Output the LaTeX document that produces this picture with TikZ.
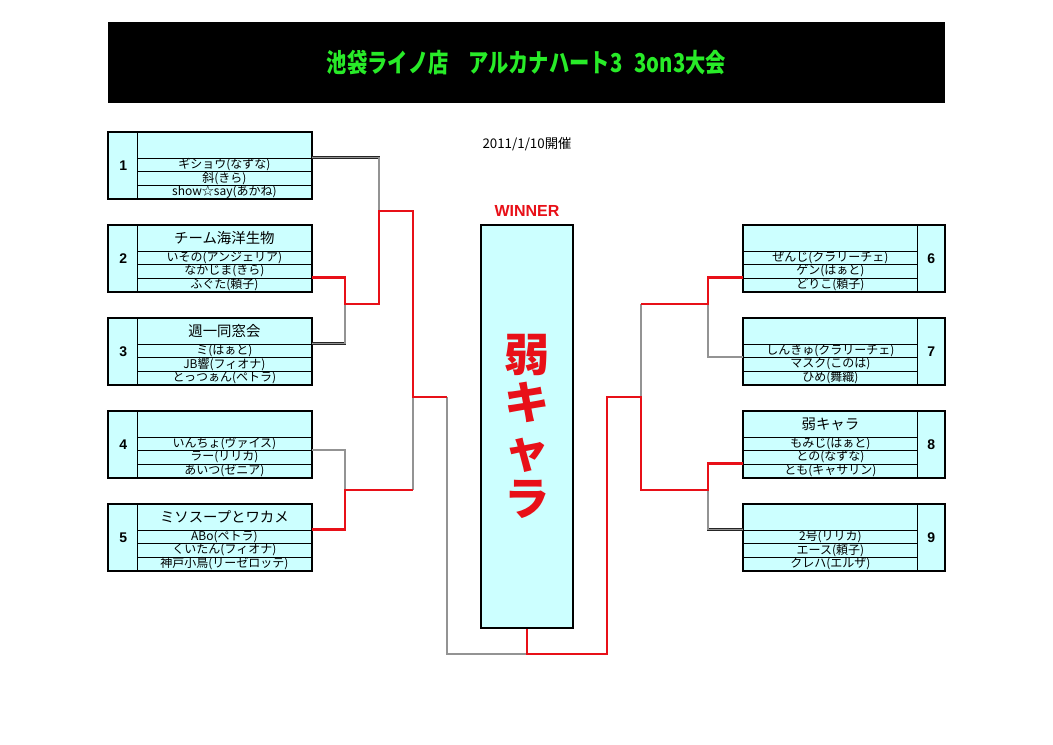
\documentclass[tikz,border=0pt]{standalone}
\usepackage{graphicx}
\usepackage{fontspec}
\setmainfont{Liberation Sans}
\newfontfamily\jp{Noto Sans CJK JP}
\definecolor{cy}{RGB}{204,255,255}
\definecolor{rd}{RGB}{232,16,24}
\definecolor{gr}{RGB}{40,235,40}
\newcommand\pxu{0.75pt}
\newcommand\tbL[7]{%
  \node[numcell, minimum width=29*\pxu] (b#1) at (108,#3) {#2};
  \node[headcell] (b#1h) at (137,#3) {#4};
  \node[rowcell] (b#1r1) at (137,#3+25.5) {#5};
  \node[rowcell] (b#1r2) at (137,#3+39) {#6};
  \node[rowcell] (b#1r3) at (137,#3+52.5) {#7};
  \draw[outer] (b#1.north west) rectangle (b#1r3.south east);
}
\newcommand\tbR[7]{%
  \node[numcell, minimum width=27*\pxu] (b#1) at (917,#3) {#2};
  \node[headcell] (b#1h) at (743,#3) {#4};
  \node[rowcell] (b#1r1) at (743,#3+25.5) {#5};
  \node[rowcell] (b#1r2) at (743,#3+39) {#6};
  \node[rowcell] (b#1r3) at (743,#3+52.5) {#7};
  \draw[outer] (b#1h.north west) rectangle (b#1.south east);
}
\begin{document}
\begin{tikzpicture}[x=0.75pt,y=-0.75pt,
  cell/.style={draw=black, line width=0.6pt, fill=cy, inner sep=0pt, anchor=north west},
  numcell/.style={cell, line width=1pt, minimum height=66*\pxu, font=\bfseries\fontsize{10.5}{11}\selectfont},
  headcell/.style={cell, minimum width=174*\pxu, minimum height=25.5*\pxu, font=\jp\fontsize{10.8}{11}\selectfont},
  rowcell/.style={cell, minimum width=174*\pxu, minimum height=13.5*\pxu, font=\jp\fontsize{9}{9}\selectfont},
  outer/.style={draw=black, line width=1.5pt},
  win/.style={draw=rd, line width=2.2pt},
  lose/.style={draw=black!85, line width=0.5pt, double=gray!85, double distance=0.9pt}]
\useasboundingbox[fill=white] (0,0) rectangle (1053,744);

\node[fill=black, minimum width=837*\pxu, minimum height=81*\pxu, inner sep=0pt, text=gr,
  font=\jp\bfseries\fontsize{19.5}{20}\selectfont] (title) at (526.5,62.5)
  {\scalebox{0.78}[1]{池袋ライノ店　アルカナハート3\hspace{0.6em}3on3大会}};

\node[font=\jp\fontsize{10}{11}\selectfont] (date) at (527,144) {2011/1/10開催};
\node[text=rd, font=\bfseries\fontsize{12}{12}\selectfont] (winlabel) at (527,211) {WINNER};

% junctions
\coordinate (L1) at (345,304);
\coordinate (L2) at (379,211);
\coordinate (L3) at (345,490);
\coordinate (L4) at (413,397);
\coordinate (L5) at (447,654);
\coordinate (F)  at (527,654);
\coordinate (R1) at (708,304);
\coordinate (R3) at (708,490);
\coordinate (R4) at (641,397);
\coordinate (R5) at (607,654);

\tbL{1}{1}{132}{}{ギショウ(なずな)}{斜(きら)}{show☆say(あかね)}
\tbL{2}{2}{225}{チーム海洋生物}{いその(アンジェリア)}{なかじま(きら)}{ふぐた(頼子)}
\tbL{3}{3}{318}{週一同窓会}{ミ(はぁと)}{JB響(フィオナ)}{とっつぁん(ペトラ)}
\tbL{4}{4}{411}{}{いんちょ(ヴァイス)}{ラー(リリカ)}{あいつ(ゼニア)}
\tbL{5}{5}{504}{ミソスープとワカメ}{ABo(ペトラ)}{くいたん(フィオナ)}{神戸小鳥(リーゼロッテ)}
\tbR{6}{6}{225}{}{ぜんじ(クラリーチェ)}{ゲン(はぁと)}{どりこ(頼子)}
\tbR{7}{7}{318}{}{しんきゅ(クラリーチェ)}{マスク(このは)}{ひめ(舞織)}
\tbR{8}{8}{411}{弱キャラ}{もみじ(はぁと)}{との(なずな)}{とも(キャサリン)}
\tbR{9}{9}{504}{}{2号(リリカ)}{エース(頼子)}{クレハ(エルザ)}

\node[draw=black, line width=1.5pt, fill=cy, minimum width=92*\pxu, minimum height=403*\pxu, inner sep=0pt,
  text=rd, font=\jp\bfseries\fontsize{34}{36}\selectfont, align=center] (W) at (527,426.5)
  {弱\\キ\\ャ\\ラ};

% losing lines
\draw[lose] (b1r1.north east) -| (L2);
\draw[lose] (b3r1.north east) -| (L1);
\draw[lose] (b4r2.north east) -| (L3);
\draw[lose] (L4 |- L3) -- (L4);
\draw[lose] (L5 |- L4) -- (L5) -- (F);
\draw[lose] (b7r2.north west) -| (R1);
\draw[lose] (b9r1.north west) -| (R3);
\draw[lose] (R4 |- R1) -- (R4);

% winning lines
\draw[win] (b2r3.north east) -| (L1) -| (L2) -| (L4) -- (L5 |- L4);
\draw[win] (b5r1.north east) -| (L3) -- (L4 |- L3);
\draw[win] (b6r3.north west) -| (R1) -- (R4 |- R1);
\draw[win] (b8r3.north west) -| (R3) -| (R4) -| (R5) -- (F) -- (W.south);
\end{tikzpicture}
\end{document}
